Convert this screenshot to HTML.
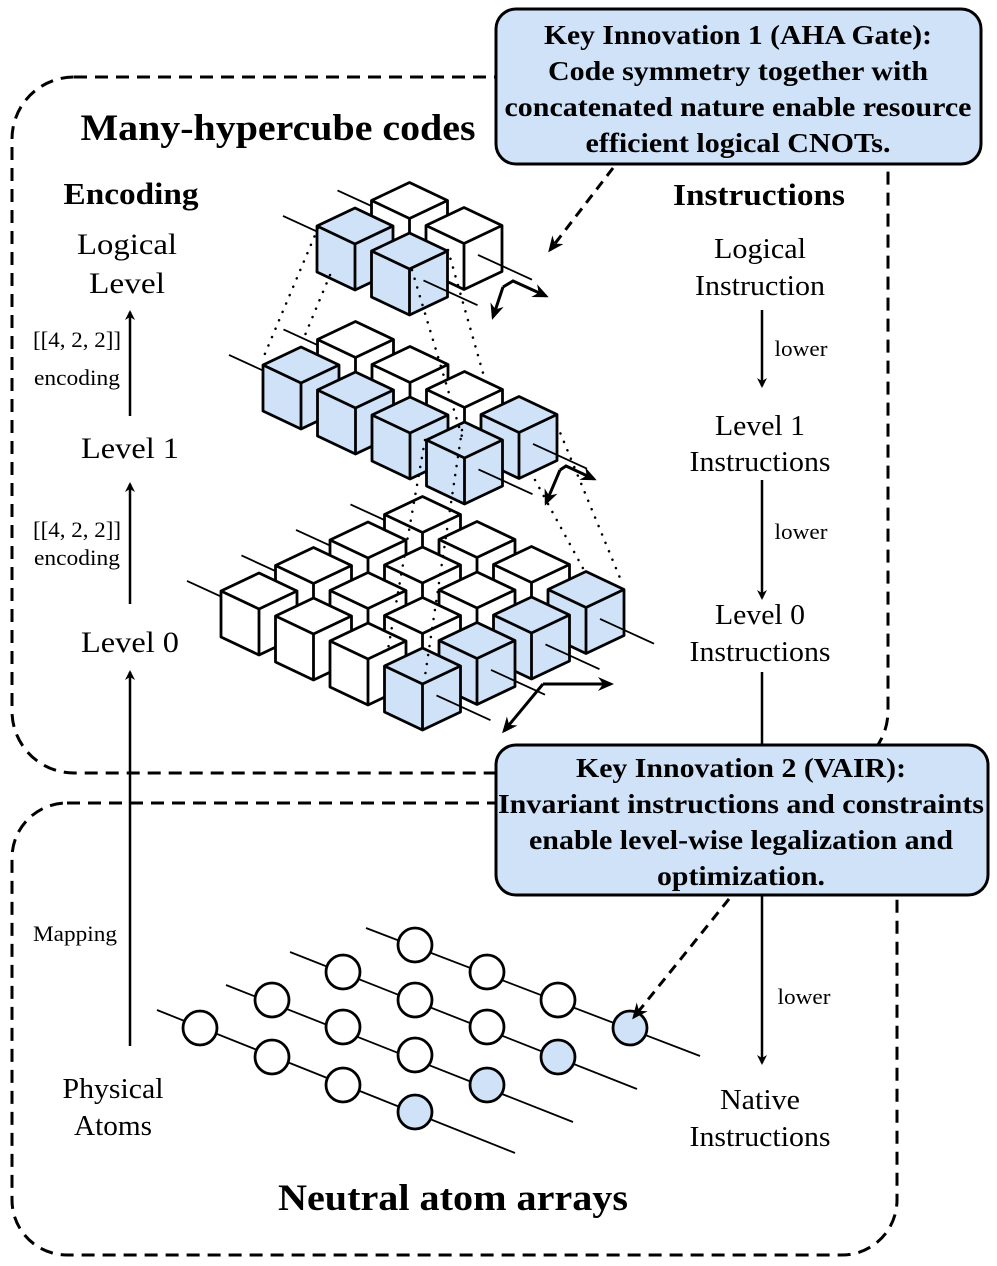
<!DOCTYPE html>
<html><head><meta charset="utf-8"><style>
html,body{margin:0;padding:0;background:#fff;width:997px;height:1266px;overflow:hidden}
svg text{font-family:"Liberation Serif",serif;fill:#000}
.b{font-weight:bold}
</style></head><body>
<svg id="s" width="997" height="1266" viewBox="0 0 997 1266" xmlns="http://www.w3.org/2000/svg">
<defs>
<marker id="ah" markerWidth="10" markerHeight="10" refX="8" refY="5" orient="auto" markerUnits="userSpaceOnUse"><path d="M0,0 L10,5 L0,10 L3,5 z" fill="#000"/></marker>
<marker id="ah2" markerWidth="16" markerHeight="14" refX="13" refY="7" orient="auto" markerUnits="userSpaceOnUse"><path d="M0,0 L16,7 L0,14 L5,7 z" fill="#000"/></marker>
</defs>
<rect x="12" y="77" width="876" height="696" rx="62" fill="none" stroke="#000" stroke-width="3" stroke-dasharray="13,8"/>
<rect x="12" y="803" width="885" height="452" rx="55" fill="none" stroke="#000" stroke-width="3" stroke-dasharray="13,8"/>

<g id="cubes"></g>

<text x="278" y="140" class="b" font-size="37" text-anchor="middle" textLength="395" lengthAdjust="spacingAndGlyphs">Many-hypercube codes</text>
<text x="453" y="1210" class="b" font-size="37" text-anchor="middle" textLength="350" lengthAdjust="spacingAndGlyphs">Neutral atom arrays</text>
<text x="131" y="204" class="b" font-size="31" text-anchor="middle" textLength="135" lengthAdjust="spacingAndGlyphs">Encoding</text>
<text x="759" y="205" class="b" font-size="31" text-anchor="middle" textLength="172" lengthAdjust="spacingAndGlyphs">Instructions</text>

<g font-size="30" text-anchor="middle">
<text x="127" y="254" textLength="100" lengthAdjust="spacingAndGlyphs">Logical</text><text x="127" y="293" textLength="76" lengthAdjust="spacingAndGlyphs">Level</text>
<text x="130" y="458" textLength="98" lengthAdjust="spacingAndGlyphs">Level 1</text>
<text x="130" y="652" textLength="98" lengthAdjust="spacingAndGlyphs">Level 0</text>
</g>
<g font-size="22" text-anchor="middle">
<text x="77" y="347" textLength="88" lengthAdjust="spacingAndGlyphs">[[4, 2, 2]]</text><text x="77" y="385" textLength="86" lengthAdjust="spacingAndGlyphs">encoding</text>
<text x="77" y="537" textLength="88" lengthAdjust="spacingAndGlyphs">[[4, 2, 2]]</text><text x="77" y="565" textLength="86" lengthAdjust="spacingAndGlyphs">encoding</text>
<text x="75" y="941" textLength="84" lengthAdjust="spacingAndGlyphs">Mapping</text>
</g>
<text x="113" y="1098" font-size="29" text-anchor="middle" textLength="101" lengthAdjust="spacingAndGlyphs">Physical</text>
<text x="113" y="1135" font-size="29" text-anchor="middle" textLength="78" lengthAdjust="spacingAndGlyphs">Atoms</text>
<g stroke="#000" stroke-width="2.5" fill="none">
<line x1="130" y1="416" x2="130" y2="312" marker-end="url(#ah)"/>
<line x1="130" y1="604" x2="130" y2="484" marker-end="url(#ah)"/>
<line x1="130" y1="1046" x2="130" y2="672" marker-end="url(#ah)"/>
</g>

<g font-size="29" text-anchor="middle">
<text x="760" y="258" textLength="92" lengthAdjust="spacingAndGlyphs">Logical</text><text x="760" y="295" textLength="130" lengthAdjust="spacingAndGlyphs">Instruction</text>
<text x="760" y="435" textLength="90" lengthAdjust="spacingAndGlyphs">Level 1</text><text x="760" y="471" textLength="141" lengthAdjust="spacingAndGlyphs">Instructions</text>
<text x="760" y="624" textLength="90" lengthAdjust="spacingAndGlyphs">Level 0</text><text x="760" y="661" textLength="141" lengthAdjust="spacingAndGlyphs">Instructions</text>
<text x="760" y="1109" textLength="80" lengthAdjust="spacingAndGlyphs">Native</text><text x="760" y="1146" textLength="141" lengthAdjust="spacingAndGlyphs">Instructions</text>
</g>
<g font-size="22" text-anchor="middle">
<text x="801" y="356" textLength="53" lengthAdjust="spacingAndGlyphs">lower</text>
<text x="801" y="539" textLength="53" lengthAdjust="spacingAndGlyphs">lower</text>
<text x="804" y="1004" textLength="53" lengthAdjust="spacingAndGlyphs">lower</text>
</g>
<g stroke="#000" stroke-width="2.5" fill="none">
<line x1="762" y1="310" x2="762" y2="386" marker-end="url(#ah)"/>
<line x1="762" y1="480" x2="762" y2="598" marker-end="url(#ah)"/>
<line x1="762" y1="672" x2="762" y2="746"/>
<line x1="762" y1="895" x2="762" y2="1063" marker-end="url(#ah)"/>
</g>

<g id="atoms"></g>

<rect x="496" y="9" width="485" height="155" rx="20" fill="#cfe2f8" stroke="#000" stroke-width="3"/>
<g class="b" font-size="27" text-anchor="middle" font-weight="bold">
<text x="738" y="44" textLength="388" lengthAdjust="spacingAndGlyphs">Key Innovation 1 (AHA Gate):</text>
<text x="738" y="80" textLength="380" lengthAdjust="spacingAndGlyphs">Code symmetry together with</text>
<text x="738" y="116" textLength="467" lengthAdjust="spacingAndGlyphs">concatenated nature enable resource</text>
<text x="738" y="152" textLength="305" lengthAdjust="spacingAndGlyphs">efficient logical CNOTs.</text>
</g>
<rect x="496" y="745" width="492" height="150" rx="20" fill="#cfe2f8" stroke="#000" stroke-width="3"/>
<g class="b" font-size="27" text-anchor="middle" font-weight="bold">
<text x="741" y="777" textLength="330" lengthAdjust="spacingAndGlyphs">Key Innovation 2 (VAIR):</text>
<text x="741" y="813" textLength="486" lengthAdjust="spacingAndGlyphs">Invariant instructions and constraints</text>
<text x="741" y="849" textLength="424" lengthAdjust="spacingAndGlyphs">enable level-wise legalization and</text>
<text x="741" y="885" textLength="168" lengthAdjust="spacingAndGlyphs">optimization.</text>
</g>
<g stroke="#000" stroke-width="3" fill="none" stroke-dasharray="10,7">
<line x1="613" y1="168" x2="550" y2="250" marker-end="url(#ah2)"/>
<line x1="729" y1="899" x2="634" y2="1017" marker-end="url(#ah2)"/>
</g>
</svg>
<script>
(function(){
var NS="http://www.w3.org/2000/svg";
function el(p,tag,attrs){var e=document.createElementNS(NS,tag);for(var k in attrs)e.setAttribute(k,attrs[k]);p.appendChild(e);return e;}
var g=document.getElementById("cubes");
var BL="#cfe2f8";
var ax=54.5,ay=25,bx=54.5,by=-25.5;
function cube(x,y,fill){
 el(g,"path",{d:"M"+x+","+y+" L"+(x+38)+","+(y+18)+" L"+(x+38)+","+(y+64)+" L"+x+","+(y+82)+" L"+(x-38)+","+(y+64)+" L"+(x-38)+","+(y+18)+" Z",fill:fill,stroke:"#000","stroke-width":"2.8","stroke-linejoin":"round"});
 el(g,"path",{d:"M"+(x-38)+","+(y+18)+" L"+x+","+(y+36)+" L"+(x+38)+","+(y+18)+" M"+x+","+(y+36)+" L"+x+","+(y+82),fill:"none",stroke:"#000","stroke-width":"2.8","stroke-linejoin":"round"});
}
function level(ox,oy,ni,nj,blue){
 var cs=[];
 for(var i=0;i<ni;i++)for(var j=0;j<nj;j++){cs.push({x:ox+ax*i+bx*j,y:oy+ay*i+by*j,b:blue(i,j)});}
 var ends=[];
 for(var j=0;j<nj;j++){
  var sx=ox+bx*j,sy=oy+by*j+41;
  var ex=ox+ax*(ni-1)+bx*j,ey=oy+ay*(ni-1)+by*j+41;
  var k=ay/ax;
  el(g,"line",{x1:sx-72,y1:sy-72*k,x2:ex,y2:ey,stroke:"#000","stroke-width":"1.8"});
  ends.push([ex,ey,ex+68,ey+68*k]);
 }
 cs.sort(function(a,b){return a.y-b.y});
 cs.forEach(function(c){cube(c.x,c.y,c.b?BL:"#fff")});
 ends.forEach(function(e){el(g,"line",{x1:e[0]+14,y1:e[1]+14*ay/ax,x2:e[2],y2:e[3],stroke:"#000","stroke-width":"1.8"})});
}
level(259,573,4,4,function(i,j){return i==3});
level(301,347,4,2,function(i,j){return j==0||i==3});
level(355,208,2,2,function(i,j){return j==0});
var dots=[[318,228,264,356],[330,275,303,340],[412,270,463,440],[448,250,485,380],
[535,480,585,572],[557,425,620,578],[425,440,387,655],[462,430,425,676]];
dots.forEach(function(d){el(g,"line",{x1:d[0],y1:d[1],x2:d[2],y2:d[3],stroke:"#000","stroke-width":"2.5","stroke-dasharray":"0.1,9","stroke-linecap":"round"})});
var arrows=[
 "M503,287 L493,317","M503,287 L513,281 L546,296",
 "M560,470 L546,503","M560,470 L566,466 L594,479",
 "M543,684 L504,731","M543,684 L611,684"];
arrows.forEach(function(a){el(g,"path",{d:a,fill:"none",stroke:"#000","stroke-width":"3","marker-end":"url(#ah2)"})});
var at=document.getElementById("atoms");
var rows=[
 {s:[157,1010],e:[515,1153],c:[[200,1028,0],[272,1057,0],[343,1085,0],[415,1112,1]]},
 {s:[226,985],e:[573,1122],c:[[272,1000,0],[343,1027,0],[415,1055,0],[487,1085,1]]},
 {s:[290,952],e:[637,1089],c:[[343,972,0],[415,1000,0],[487,1027,0],[558,1057,1]]},
 {s:[366,928],e:[700,1056],c:[[415,945,0],[487,972,0],[558,1000,0],[630,1028,1]]}];
rows.forEach(function(r){
 el(at,"line",{x1:r.s[0],y1:r.s[1],x2:r.e[0],y2:r.e[1],stroke:"#000","stroke-width":"1.8"});
 r.c.forEach(function(c){el(at,"circle",{cx:c[0],cy:c[1],r:17,fill:c[2]?BL:"#fff",stroke:"#000","stroke-width":"2.8"})});
});
})();
</script>
</body></html>
